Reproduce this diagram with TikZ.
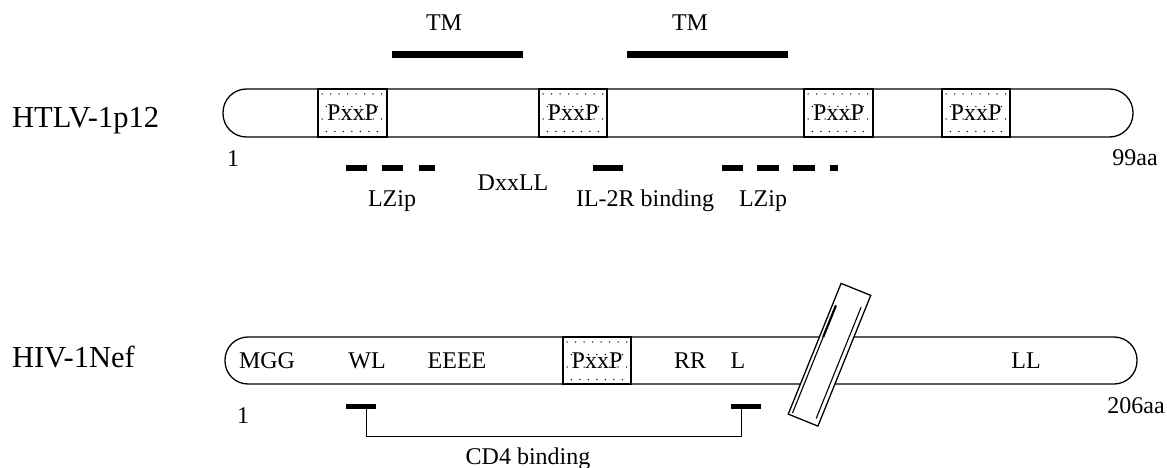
\documentclass[tikz,border=0pt]{standalone}
\usepackage{fontspec}
\setmainfont{Liberation Serif}
\newcommand{\pxxpbox}[4]{%
  \draw[line width=1.2pt] (#1,#3) rectangle (#2,#4);
  \begin{scope}
    \clip ({#1+2},{#3+2}) rectangle ({#2-2},{#4-2});
    \foreach \j in {0,...,3}{
      \foreach \i in {0,...,8}{
        \fill ({#1+4+\i*8.5+mod(\j,2)*4.25},{#3+5+\j*12.5}) circle (0.75pt);
      }
    }
  \end{scope}
}
\begin{document}
\begin{tikzpicture}[x=1pt,y=-1pt,
  lab/.style={font=\fontsize{24}{28}\selectfont,inner sep=0pt,anchor=base},
  biglab/.style={font=\fontsize{30.5}{34}\selectfont,inner sep=0pt,anchor=base west},
  tmbar/.style={line width=7pt},
  zipbar/.style={line width=6pt},
  cdbar/.style={line width=5pt},
  outline/.style={line width=1.3pt}]
\useasboundingbox (0,0) rectangle (1167,468);
% HTLV-1 p12
\node[biglab] (htlv) at (12,128) {HTLV-1p12};
\draw[outline,rounded corners=23.5pt] (223,89) rectangle (1133,137);
\pxxpbox{318}{387}{89}{137}
\pxxpbox{539}{607}{89}{137}
\pxxpbox{804}{873}{89}{137}
\pxxpbox{942}{1010}{89}{137}
\node[lab] (px1) at (352.5,121) {PxxP};
\node[lab] (px2) at (573,121) {PxxP};
\node[lab] (px3) at (838.5,121) {PxxP};
\node[lab] (px4) at (976,121) {PxxP};
\node[lab] (tm1) at (444,31) {TM};
\node[lab] (tm2) at (690,31) {TM};
\draw[tmbar] (392,55) -- (523,55);
\draw[tmbar] (627,55) -- (788,55);
\foreach \a/\b in {346/367,382/403,419/435,593/623,722/743,757/779,793/815,830/838}
  \draw[zipbar] (\a,168) -- (\b,168);
\node[lab] (one1) at (233,166) {1};
\node[lab] (end1) at (1135,165) {99aa};
\node[lab] (lzip1) at (392,206) {LZip};
\node[lab] (dxxll) at (513,190) {DxxLL};
\node[lab] (il2r) at (645,206) {IL-2R binding};
\node[lab] (lzip2) at (763,206) {LZip};
% HIV-1 Nef
\node[biglab] (hiv) at (12,367) {HIV-1Nef};
\draw[outline,rounded corners=23pt] (225,337) rectangle (1137,384);
\pxxpbox{563}{631}{337}{384}
\node[lab] (px5) at (597,368) {PxxP};
\node[lab] (mgg) at (267,368) {MGG};
\node[lab] (wl) at (367,368) {WL};
\node[lab] (eeee) at (457,368) {EEEE};
\node[lab] (rr) at (690,368) {RR};
\node[lab] (l) at (738,368) {L};
\node[lab] (ll) at (1026,368) {LL};
\node[lab] (one2) at (243,423) {1};
\node[lab] (end2) at (1136,413) {206aa};
\begin{scope}[shift={(829.5,354.75)},rotate=-22]
  \draw[outline,fill=white] (-16,-70.5) rectangle (16,70.5);
  \draw[line width=1.1pt] (-12.5,-48) -- (-12.5,68);
  \draw[line width=2.2pt] (-12.5,-48) -- (-12.5,-14);
  \draw[line width=1.1pt] (11.5,-56) -- (11.5,64);
\end{scope}
\coordinate (cd1) at (366,406);
\coordinate (cd2) at (741,406);
\draw[cdbar] ([xshift=-20pt]cd1) -- ([xshift=10pt]cd1);
\draw[cdbar] ([xshift=-10pt]cd2) -- ([xshift=20pt]cd2);
\draw[line width=0.9pt] (cd1) -- ++(0,30) -| (cd2);
\node[lab] (cd4) at (528,464) {CD4 binding};
\end{tikzpicture}
\end{document}
